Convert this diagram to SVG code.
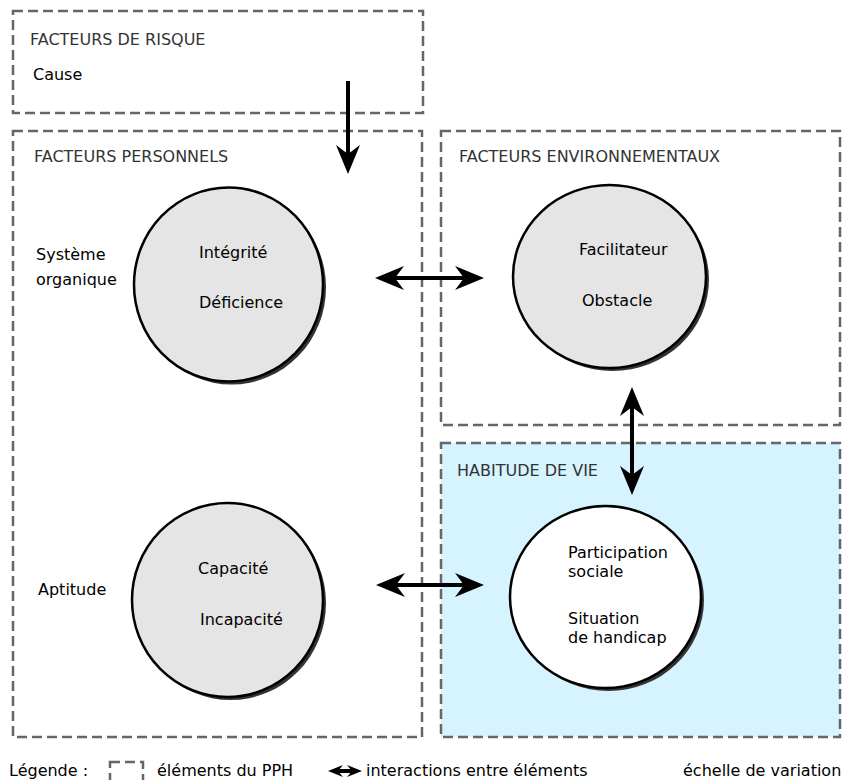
<svg xmlns="http://www.w3.org/2000/svg" width="843" height="780" viewBox="0 0 843 780">
<defs>
<style>
.box{fill:#fff;stroke:#666;stroke-width:2.5;stroke-dasharray:10,5}
.hab{fill:#d5f4ff}
.title{font-family:"DejaVu Sans",sans-serif;font-size:16px;fill:#333}
.t{font-family:"DejaVu Sans",sans-serif;font-size:16px;fill:#000}
.circ{fill:#e5e5e5;stroke:#000;stroke-width:2.5}
.white{fill:#fff}
.shadow{fill:#333}
.conn{stroke:#000;stroke-width:4;fill:none}
</style>
<marker id="ah" markerUnits="userSpaceOnUse" viewBox="-12 -13 34 26" markerWidth="34" markerHeight="26" refX="0" refY="0" orient="auto-start-reverse">
<path d="M20 0 L-9 -12 L0 0 L-9 12 Z" fill="#000"/>
</marker>
<marker id="ahs" markerUnits="userSpaceOnUse" viewBox="-8 -7 20 14" markerWidth="20" markerHeight="14" refX="0" refY="0" orient="auto-start-reverse">
<path d="M10 0 L-5 -6 L0 0 L-5 6 Z" fill="#000"/>
</marker>
</defs>
<rect width="843" height="780" fill="#fff"/>
<g id="risque">
<rect class="box" x="13" y="11" width="410" height="102"/>
<text class="title" x="30" y="45">FACTEURS DE RISQUE</text>
<text class="t" x="33" y="80">Cause</text>
</g>
<g id="personnels">
<rect class="box" x="13" y="131" width="409" height="606"/>
<text class="title" x="34" y="162">FACTEURS PERSONNELS</text>
<text class="t" x="36" y="260">Système</text>
<text class="t" x="36" y="285">organique</text>
<text class="t" x="38" y="595">Aptitude</text>
</g>
<g id="environnementaux">
<rect class="box" x="441" y="131" width="399" height="294"/>
<text class="title" x="459" y="162">FACTEURS ENVIRONNEMENTAUX</text>
</g>
<g id="habitude">
<rect class="box hab" x="441" y="443" width="399" height="294"/>
<text class="title" x="457" y="476">HABITUDE DE VIE</text>
</g>
<g id="systeme-organique">
<ellipse class="shadow" cx="231.5" cy="287.5" rx="94.5" ry="97"/>
<ellipse class="circ" cx="228.5" cy="284.5" rx="94.5" ry="97"/>
<text class="t" x="199" y="258">Intégrité</text>
<text class="t" x="199" y="308">Déficience</text>
</g>
<g id="environnement">
<ellipse class="shadow" cx="612.5" cy="279.5" rx="96.5" ry="91.5"/>
<ellipse class="circ" cx="609.5" cy="276.5" rx="96.5" ry="91.5"/>
<text class="t" x="579" y="255">Facilitateur</text>
<text class="t" x="582" y="306">Obstacle</text>
</g>
<g id="aptitude">
<ellipse class="shadow" cx="230.5" cy="603" rx="95.5" ry="97"/>
<ellipse class="circ" cx="227.5" cy="600" rx="95.5" ry="97"/>
<text class="t" x="198" y="574">Capacité</text>
<text class="t" x="200" y="625">Incapacité</text>
</g>
<g id="participation">
<ellipse class="shadow" cx="608.5" cy="600" rx="95.5" ry="91"/>
<ellipse class="circ white" cx="605.5" cy="597" rx="95.5" ry="91"/>
<text class="t" x="568" y="558">Participation</text>
<text class="t" x="568" y="577">sociale</text>
<text class="t" x="568" y="624">Situation</text>
<text class="t" x="568" y="643">de handicap</text>
</g>
<g id="connectors">
<line class="conn" x1="348" y1="81" x2="348" y2="154" marker-end="url(#ah)"/>
<line class="conn" x1="395" y1="278" x2="464" y2="278" marker-start="url(#ah)" marker-end="url(#ah)"/>
<line class="conn" x1="396" y1="585" x2="464" y2="585" marker-start="url(#ah)" marker-end="url(#ah)"/>
<line class="conn" x1="632" y1="407" x2="632" y2="475" marker-start="url(#ah)" marker-end="url(#ah)"/>
</g>
<g id="legende">
<text class="t" x="9" y="776">Légende :</text>
<rect class="box" x="110" y="762" width="33" height="30"/>
<text class="t" x="157" y="776">éléments du PPH</text>
<line class="conn" x1="338" y1="771" x2="352" y2="771" stroke-width="3" marker-start="url(#ahs)" marker-end="url(#ahs)"/>
<text class="t" x="366" y="776">interactions entre éléments</text>
<text class="t" x="683" y="776">échelle de variation</text>
</g>
</svg>
